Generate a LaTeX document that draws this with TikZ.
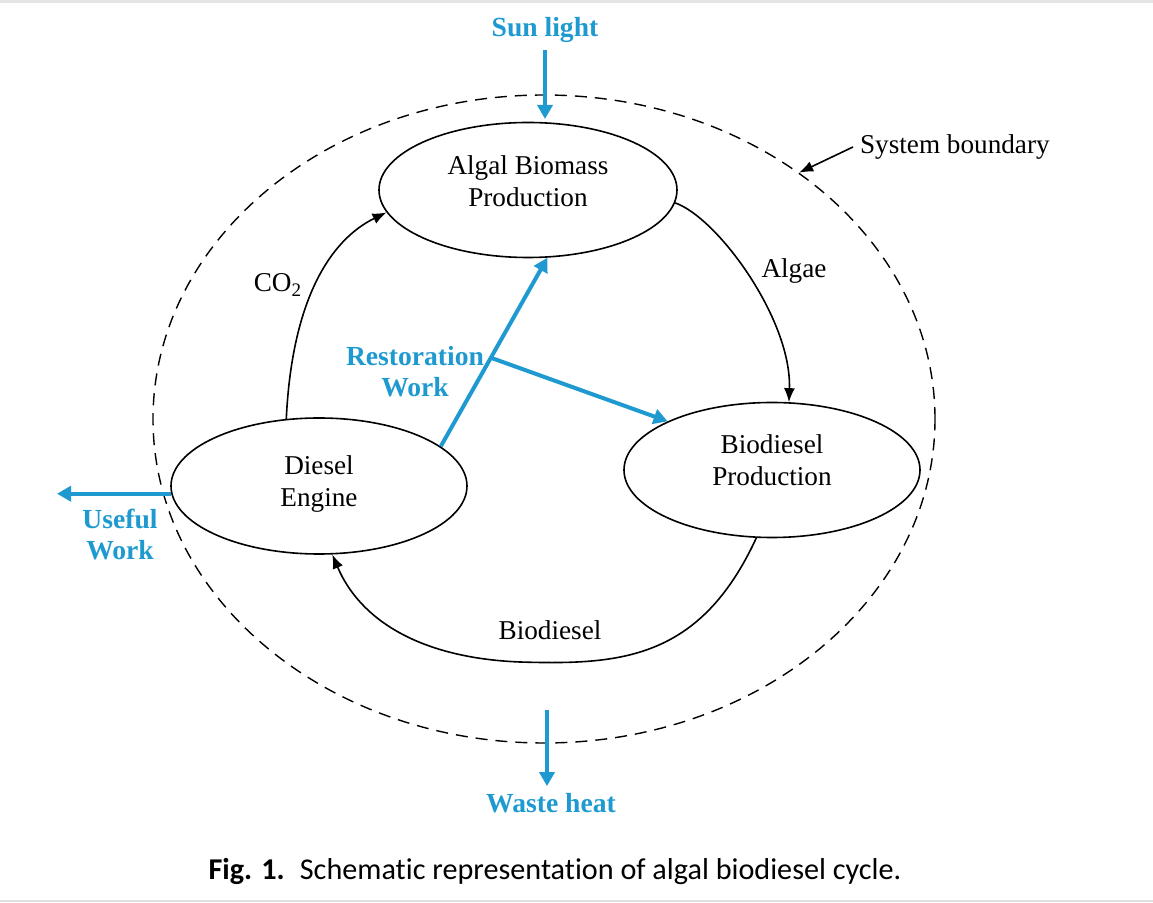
\documentclass[tikz,border=0pt]{standalone}
\usepackage{fontspec}
\setmainfont{Liberation Serif}
\newfontfamily\capfont[Ligatures=NoCommon]{Carlito}
\usetikzlibrary{arrows.meta,shapes.geometric,calc}
\definecolor{flowblue}{RGB}{31,154,208}
\begin{document}
\begin{tikzpicture}[x=0.5pt,y=-0.5pt,
  proc/.style={draw,ellipse,line width=0.8pt,inner sep=0pt},
  lbl/.style={font=\fontsize{13.6}{16}\selectfont,align=center},
  bluelbl/.style={font=\fontsize{13.8}{15.5}\selectfont\bfseries,text=flowblue,align=center},
  flow/.style={line width=0.8pt,-{Latex[length=7pt,width=5.5pt]}},
  bluearrow/.style={draw=flowblue,line width=2pt,-{Triangle[length=7pt,width=7.5pt]}},
  boundary/.style={draw,ellipse,line width=0.7pt,dash pattern=on 6pt off 4pt,inner sep=0pt}]
\useasboundingbox (0,0) rectangle (1153,903);
\fill[black!10] (0,0) rectangle (1153,3);
\draw[black!12,line width=0.6pt] (0,901) -- (1153,901);
% system boundary
\node[boundary,minimum width=391pt,minimum height=324pt] (sb) at (544,419) {};
% processes
\node[proc,minimum width=149pt,minimum height=67.5pt,label={[lbl,yshift=4.5pt]center:Algal Biomass\\Production}] (aB) at (528,190) {};
\node[proc,minimum width=148pt,minimum height=68pt,label={[lbl,yshift=1pt]center:Diesel\\Engine}] (dE) at (319,486) {};
\node[proc,minimum width=148pt,minimum height=67.5pt,label={[lbl,yshift=5pt]center:Biodiesel\\Production}] (bP) at (772,470) {};
% labels
\node[lbl] (co2) at (278,285) {CO\textsubscript{2}};
\node[lbl] (algae) at (794,271) {Algae};
\node[lbl] (bd) at (550,630) {Biodiesel};
\node[lbl,anchor=west] (sbl) at (853,147) {System boundary};
\node[bluelbl] (sun) at (545,30) {Sun light};
\node[bluelbl] (waste) at (551,803) {Waste heat};
\node[bluelbl] (useful) at (120,534) {Useful\\Work};
\node[bluelbl] (rest) at (415,372) {Restoration\\Work};
\node[font=\capfont\fontsize{15.1}{17}\selectfont] (cap) at (555,872) {\textbf{Fig. 1.}\enspace Schematic representation of algal biodiesel cycle.};
% black flows
\draw[flow] (dE.116) .. controls (292,300) and (330,240) .. (aB.189);
\draw[flow] (aB.-5) .. controls (718,218) and (792,320) .. (bP.76);
\draw[flow] (bP.-103) .. controls (700,660) and (620,665) .. (520,662) .. controls (420,658) and (360,620) .. (dE.-79);
\draw[flow] (sbl.west) -- (sb.44);
% blue flows
\coordinate (sunend) at (545,119);
\coordinate (wtop) at (547,710);
\coordinate (uend) at (57,493);
\draw[bluearrow] (sun.south) -- (sunend);
\draw[bluearrow] (wtop) -- (waste.north -| wtop);
\draw[bluearrow] (dE.183) -- (dE.183 -| uend);
\draw[bluearrow] (dE.18) -- (aB.-74);
\coordinate (br) at ($(dE.18)!0.47!(aB.-74)$);
\draw[bluearrow] (br) -- (bP.155);
\end{tikzpicture}
\end{document}
